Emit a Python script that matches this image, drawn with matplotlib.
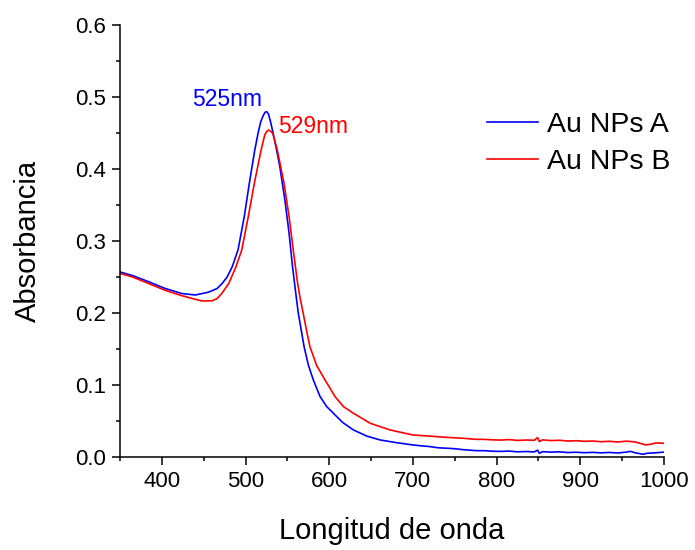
import matplotlib
matplotlib.use("Agg")
import matplotlib.pyplot as plt
from matplotlib.ticker import MultipleLocator

plt.rcParams['font.family'] = ['Liberation Sans', 'DejaVu Sans']

# UV-Vis spectra of the two gold nanoparticle batches
wl_a = [350, 365, 384, 404, 424, 440, 456, 466, 472, 478, 484, 491, 498.5, 504.5, 511,
        515, 518, 521, 523.5, 525.5, 527.5, 530, 533, 537, 541, 547, 552, 556, 559, 563,
        570, 575, 581, 589, 597, 605, 616, 629, 645, 661, 680, 700,
        710, 720, 730, 740, 750, 760, 770, 776, 785, 795, 805, 815, 825, 835, 845,
        849, 851, 855, 865, 875, 885, 895, 905, 915, 925, 935, 945, 955, 960, 965,
        975, 980, 990, 1000]
abs_a = [0.257, 0.252, 0.2435, 0.234, 0.227, 0.225, 0.229, 0.234, 0.241, 0.250, 0.264,
         0.2875, 0.334, 0.380, 0.426, 0.450, 0.465, 0.474, 0.479, 0.4795, 0.476,
         0.465, 0.4496, 0.427, 0.403, 0.357, 0.311, 0.266, 0.237, 0.200,
         0.153, 0.128, 0.107, 0.084, 0.070, 0.0607, 0.048, 0.0375, 0.029, 0.0236,
         0.020, 0.0167,
         0.0155, 0.0145, 0.0128, 0.0122, 0.0115, 0.0102, 0.0093, 0.0088, 0.0088, 0.0080,
         0.0078, 0.0082, 0.0072, 0.0076, 0.0071, 0.0095, 0.0052, 0.0074, 0.0068,
         0.0072, 0.0062, 0.0066, 0.0060, 0.0064, 0.0058, 0.0063, 0.0056, 0.0068,
         0.0078, 0.0060, 0.0038, 0.0052, 0.0058, 0.0068]

wl_b = [350, 365, 384, 404, 424, 440, 448, 460, 466, 471.5, 480, 488.5, 495.5, 503.3,
        510.5, 518.5, 523, 525.5, 527.5, 530, 532.5, 538, 546, 552, 557, 562, 565, 569,
        573, 577, 585, 595, 607, 617, 629, 649, 673, 700,
        720, 740, 760, 776, 785, 795, 805, 815, 825, 835, 845, 849, 851, 855, 865,
        875, 885, 895, 905, 915, 925, 935, 945, 955, 965, 970, 978, 985, 990, 1000]
abs_b = [0.255, 0.250, 0.241, 0.2315, 0.224, 0.219, 0.2167, 0.217, 0.220, 0.227,
         0.241, 0.264, 0.2875, 0.334, 0.380, 0.426, 0.4475, 0.4525, 0.454, 0.4525,
         0.4496, 0.426, 0.380, 0.334, 0.2875, 0.243, 0.222, 0.199,
         0.175, 0.153, 0.127, 0.107, 0.0838, 0.070, 0.0607, 0.0468, 0.0375, 0.0306,
         0.029, 0.0273, 0.026, 0.0245, 0.0245, 0.0238, 0.0235, 0.0242, 0.0230,
         0.0236, 0.0232, 0.0270, 0.0215, 0.0238, 0.0228, 0.0232, 0.0222, 0.0226,
         0.0218, 0.0222, 0.0212, 0.0218, 0.0208, 0.0220, 0.0210, 0.0195, 0.0168,
         0.0178, 0.0195, 0.0190]

labels = ["Au NPs A", "Au NPs B"]
peak_a, peak_b = 525, 529

fig = plt.figure(figsize=(6.95, 5.5), dpi=100)
ax = fig.add_axes([120 / 695, 93 / 550, 544 / 695, 432 / 550])

ax.plot(wl_a, abs_a, color="#0000ff", lw=1.2, label=labels[0])
ax.plot(wl_b, abs_b, color="#ff0000", lw=1.2, label=labels[1])

ax.text(436, 0.4875, f"{peak_a}nm", color="#0000ff", fontsize=16.5,
        ha="left", va="baseline")
ax.text(539, 0.4496, f"{peak_b}nm", color="#ff0000", fontsize=16.5,
        ha="left", va="baseline")

ax.set_xlim(350, 1000)
ax.set_ylim(0, 0.6)
ax.xaxis.set_major_locator(MultipleLocator(100))
ax.xaxis.set_minor_locator(MultipleLocator(50))
ax.yaxis.set_major_locator(MultipleLocator(0.1))
ax.yaxis.set_minor_locator(MultipleLocator(0.05))
ax.yaxis.set_major_formatter(plt.FormatStrFormatter("%.1f"))

for side in ("top", "right"):
    ax.spines[side].set_visible(False)
for side in ("left", "bottom"):
    ax.spines[side].set_linewidth(1.1)

ax.tick_params(which="major", direction="out", length=6, width=1.1,
               labelsize=16, pad=4)
ax.tick_params(which="minor", direction="out", length=3, width=1.1)

ax.set_xlabel("Longitud de onda", fontsize=21, labelpad=18)
ax.set_ylabel("Absorbancia", fontsize=21, labelpad=24)

ax.legend(loc="upper left", bbox_to_anchor=(0.649, 0.831), frameon=False,
          fontsize=20.5, borderpad=0, handlelength=1.79, handletextpad=0.32,
          labelspacing=0.375)

fig.savefig("out.png", dpi=100)
